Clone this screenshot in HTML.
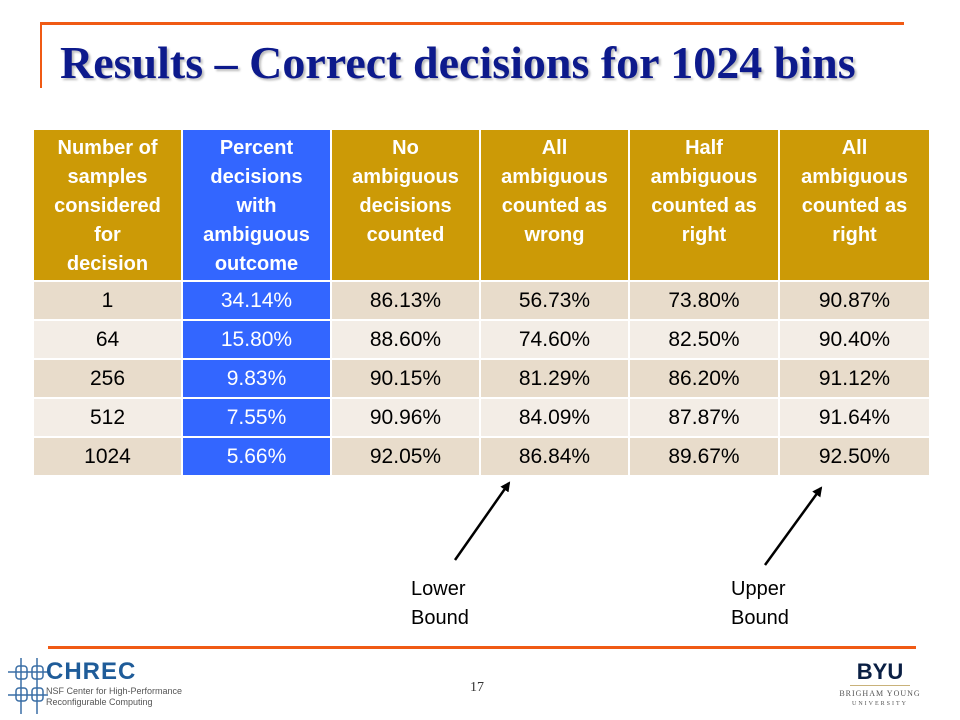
<!DOCTYPE html>
<html><head><meta charset="utf-8"><style>
body{margin:0;width:960px;height:720px;background:#fff;position:relative;overflow:hidden;font-family:"Liberation Sans",Arial,sans-serif}
.abs{position:absolute}
table{position:absolute;left:32px;top:128px;border-collapse:collapse;table-layout:fixed}
td,th{border:2px solid #fff;text-align:center;padding:0;font-size:21px}
th{background:#cc9a06;color:#fff;font-weight:bold;font-size:20px;line-height:29px;height:146px;vertical-align:top;padding:4px 8px 0}
th.first{padding:4px 18px 0}
td{height:37px;color:#000}
tr.a td{background:#e8dccb}
tr.b td{background:#f3ede6}
th.blue,tr td.blue{background:#3366ff;color:#fff}
</style></head><body>
<div class="abs" style="left:40px;top:22px;width:864px;height:3px;background:#f05a14"></div>
<div class="abs" style="left:40px;top:22px;width:2px;height:66px;background:#f05a14"></div>
<div class="abs" style="left:60px;top:36px;font-family:'Liberation Serif',serif;font-weight:bold;font-size:46px;color:#0d1a8c;text-shadow:2px 2px 2px #bbb;white-space:nowrap">Results – Correct decisions for 1024 bins</div>
<table>
<colgroup><col style="width:149px"><col style="width:149px"><col style="width:149px"><col style="width:149px"><col style="width:150px"><col style="width:151px"></colgroup>
<tr>
<th class="first">Number of samples considered for decision</th>
<th class="blue">Percent decisions with ambiguous outcome</th>
<th>No ambiguous decisions counted</th>
<th>All ambiguous counted as wrong</th>
<th>Half ambiguous counted as right</th>
<th>All ambiguous counted as right</th>
</tr>
<tr class="a"><td>1</td><td class="blue">34.14%</td><td>86.13%</td><td>56.73%</td><td>73.80%</td><td>90.87%</td></tr>
<tr class="b"><td>64</td><td class="blue">15.80%</td><td>88.60%</td><td>74.60%</td><td>82.50%</td><td>90.40%</td></tr>
<tr class="a"><td>256</td><td class="blue">9.83%</td><td>90.15%</td><td>81.29%</td><td>86.20%</td><td>91.12%</td></tr>
<tr class="b"><td>512</td><td class="blue">7.55%</td><td>90.96%</td><td>84.09%</td><td>87.87%</td><td>91.64%</td></tr>
<tr class="a"><td>1024</td><td class="blue">5.66%</td><td>92.05%</td><td>86.84%</td><td>89.67%</td><td>92.50%</td></tr>
</table>
<svg class="abs" style="left:0;top:0" width="960" height="720">
<defs><marker id="ah" markerWidth="10" markerHeight="10" refX="8" refY="5" orient="auto" markerUnits="userSpaceOnUse"><path d="M0,0 L10,5 L0,10 z" fill="#000"/></marker></defs>
<line x1="455" y1="560" x2="509" y2="483" stroke="#000" stroke-width="2.5" marker-end="url(#ah)"/>
<line x1="765" y1="565" x2="821" y2="488" stroke="#000" stroke-width="2.5" marker-end="url(#ah)"/>
</svg>
<div class="abs" style="left:411px;top:575px;font-size:20px;line-height:29px">Lower<br>Bound</div>
<div class="abs" style="left:731px;top:575px;font-size:20px;line-height:29px">Upper<br>Bound</div>
<div class="abs" style="left:48px;top:646px;width:868px;height:3px;background:#f05a14"></div>
<div class="abs" style="left:8px;top:658px;width:200px;height:56px">
<svg width="40" height="56" style="position:absolute;left:0;top:0"><g fill="none" stroke="#3a6ea5" stroke-width="1.5"><rect x="8" y="8" width="11" height="13" rx="3"/><rect x="24" y="8" width="11" height="13" rx="3"/><rect x="8" y="30" width="11" height="13" rx="3"/><rect x="24" y="30" width="11" height="13" rx="3"/><path d="M0 14H40M0 37H40M13 0V56M29 0V56"/></g></svg>
<div style="position:absolute;left:38px;top:0;font-weight:bold;font-size:24px;color:#1f5c99;letter-spacing:1px">CHREC</div>
<div style="position:absolute;left:38px;top:28px;font-size:9px;line-height:11px;color:#555">NSF Center for High-Performance<br>Reconfigurable Computing</div>
</div>
<div class="abs" style="left:470px;top:680px;font-family:'Liberation Serif',serif;font-size:14px;color:#333">17</div>
<div class="abs" style="left:832px;top:660px;width:96px;text-align:center;font-family:'Liberation Serif',serif">
<div style="font-family:'Liberation Sans',sans-serif;font-weight:bold;font-size:22px;color:#0a1f44;line-height:24px">BYU</div>
<div style="width:60px;height:1px;background:#c9b27a;margin:1px auto 3px"></div>
<div style="font-size:8px;color:#555;letter-spacing:1px">BRIGHAM YOUNG</div>
<div style="font-size:6px;color:#555;letter-spacing:2px;margin-top:3px">UNIVERSITY</div>
</div>
</body></html>
